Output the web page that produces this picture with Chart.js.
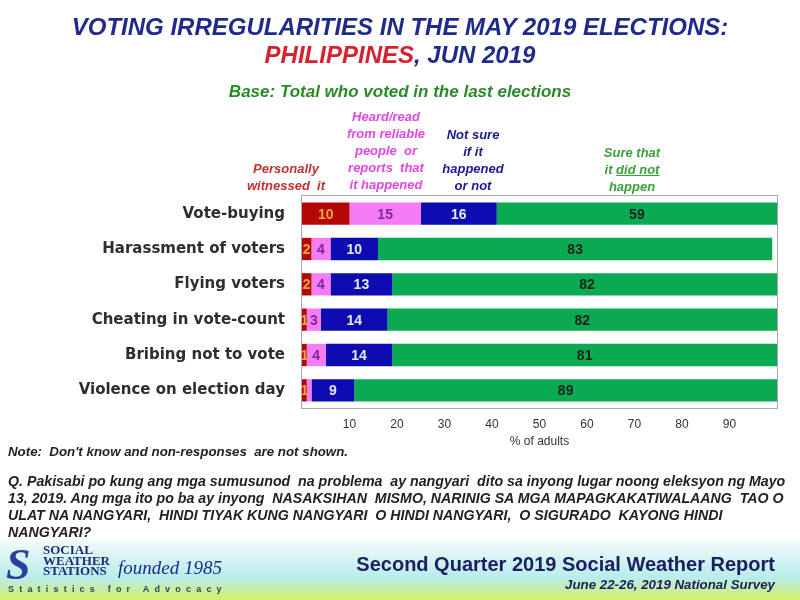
<!DOCTYPE html>
<html><head><meta charset="utf-8">
<script src="https://cdn.jsdelivr.net/npm/chart.js@4.4.1/dist/chart.umd.min.js"></script>
<style>
html,body{margin:0;padding:0;width:800px;height:600px;overflow:hidden;background:#fff;}
#wrap{position:relative;width:800px;height:600px;}
#chartBox{position:absolute;left:0;top:0;width:800px;height:600px;z-index:1;}
.t{position:absolute;white-space:nowrap;font-family:"Liberation Sans",Arial,sans-serif;z-index:2;}
.c{left:0;width:800px;text-align:center;}
.hdr{font-weight:bold;font-style:italic;font-size:13px;line-height:17px;text-align:center;width:140px;}
#footer{position:absolute;left:0;top:540px;width:800px;height:60px;z-index:0;
 background:linear-gradient(to bottom,#f4fbfb 0%,#d6f4f4 30%,#b9ecec 62%,#c6eeb0 80%,#d6f062 100%);}
</style></head>
<body><div id="wrap">
<div id="footer"></div>
<div id="chartBox"><canvas id="c"></canvas></div>

<div class="t c" style="top:13px;font-size:24px;line-height:28px;font-weight:bold;font-style:italic;color:#1f2a8a;">VOTING IRREGULARITIES IN THE MAY 2019 ELECTIONS:</div>
<div class="t c" style="top:41px;font-size:24px;line-height:28px;font-weight:bold;font-style:italic;color:#1f2a8a;"><span style="color:#d8202e;">PHILIPPINES</span>, JUN 2019</div>
<div class="t c" style="top:82px;font-size:17px;line-height:20px;font-weight:bold;font-style:italic;color:#2a8a2a;">Base: Total who voted in the last elections</div>

<div class="t hdr" style="left:216px;top:159.5px;color:#c03030;">Personally<br>witnessed&nbsp; it</div>
<div class="t hdr" style="left:316px;top:107.5px;color:#e048e0;">Heard/read<br>from reliable<br>people&nbsp; or<br>reports&nbsp; that<br>it happened</div>
<div class="t hdr" style="left:403px;top:125.5px;color:#1a1a90;">Not sure<br>if it<br>happened<br>or not</div>
<div class="t hdr" style="left:562px;top:143.5px;color:#3aa03a;">Sure that<br>it <u>did not</u><br>happen</div>

<div class="t" style="left:8px;top:444px;font-size:13.3px;line-height:16px;font-style:italic;font-weight:bold;color:#222;">Note:&nbsp; Don't know and non-responses&nbsp; are not shown.</div>
<div class="t" style="left:8px;top:472.5px;font-size:14.2px;line-height:17px;font-style:italic;font-weight:bold;color:#222;">Q. Pakisabi po kung ang mga sumusunod&nbsp; na problema&nbsp; ay nangyari&nbsp; dito sa inyong lugar noong eleksyon ng Mayo<br>13, 2019. Ang mga ito po ba ay inyong&nbsp; NASAKSIHAN&nbsp; MISMO, NARINIG SA MGA MAPAGKAKATIWALAANG&nbsp; TAO O<br>ULAT NA NANGYARI,&nbsp; HINDI TIYAK KUNG NANGYARI&nbsp; O HINDI NANGYARI,&nbsp; O SIGURADO&nbsp; KAYONG HINDI<br>NANGYARI?</div>

<div class="t" style="left:6px;top:543px;font-family:'Liberation Serif',serif;font-size:44px;line-height:44px;font-weight:bold;font-style:italic;color:#2b3f9e;">S</div>
<div class="t" style="left:43px;top:545px;font-family:'Liberation Serif',serif;font-size:13px;line-height:10.5px;font-weight:bold;color:#1c2a7a;">SOCIAL<br>WEATHER<br>STATIONS</div>
<div class="t" style="left:118px;top:558px;font-family:'Liberation Serif',serif;font-size:19px;line-height:20px;font-style:italic;color:#1c2a8a;">founded 1985</div>
<div class="t" style="left:8px;top:584px;font-size:9px;line-height:11px;font-weight:bold;letter-spacing:5.2px;color:#2a4a4a;">Statistics for Advocacy</div>

<div class="t" style="right:25px;top:553px;font-size:20px;line-height:23px;font-weight:bold;color:#1c2060;">Second Quarter 2019 Social Weather Report</div>
<div class="t" style="right:25px;top:577px;font-size:13.3px;line-height:16px;font-weight:bold;font-style:italic;color:#1c2060;">June 22-26, 2019 National Survey</div>
</div>
<script>
const categories = ["Vote-buying","Harassment of voters","Flying voters","Cheating in vote-count","Bribing not to vote","Violence on election day"];
const seriesNames = ["Personally witnessed it","Heard/read from reliable people or reports that it happened","Not sure if it happened or not","Sure that it did not happen"];
const witnessed = [10, 2, 2, 1, 1, 1];
const heard     = [15, 4, 4, 3, 4, 1];
const notSure   = [16, 10, 13, 14, 14, 9];
const sureNot   = [59, 83, 82, 82, 81, 89];
const xTicks = [10, 20, 30, 40, 50, 60, 70, 80, 90];

const barColors = ["#b40808", "#f67cf6", "#0c0cb0", "#0aaa52"];
const labelColors = ["#f4a640", "#7a2aa0", "#e8e8f2", "#1e1e1e"];

const frame = {
  id: 'frame',
  beforeDatasetsDraw(chart) {
    const a = chart.chartArea, ctx = chart.ctx;
    ctx.save();
    ctx.strokeStyle = '#a8a8a8';
    ctx.lineWidth = 1;
    ctx.strokeRect(a.left - 0.5, a.top - 0.5, a.right - a.left + 1, a.bottom - a.top + 1);
    ctx.restore();
  }
};
const valueLabels = {
  id: 'valueLabels',
  afterDatasetsDraw(chart) {
    const ctx = chart.ctx;
    chart.data.datasets.forEach((ds, di) => {
      const meta = chart.getDatasetMeta(di);
      meta.data.forEach((bar, i) => {
        const v = ds.data[i];
        if (di === 1 && v < 2) return;
        ctx.save();
        ctx.font = 'bold 14px "Liberation Sans", Arial, sans-serif';
        ctx.fillStyle = labelColors[di];
        ctx.textAlign = 'center';
        ctx.textBaseline = 'middle';
        ctx.fillText(String(v), (bar.x + bar.base) / 2, bar.y + 1);
        ctx.restore();
      });
    });
  }
};

new Chart(document.getElementById('c'), {
  type: 'bar',
  data: {
    labels: categories,
    datasets: [witnessed, heard, notSure, sureNot].map((d, k) => ({
      label: seriesNames[k], data: d, backgroundColor: barColors[k],
      borderWidth: 0, barPercentage: 0.63, categoryPercentage: 1
    }))
  },
  options: {
    indexAxis: 'y',
    responsive: true,
    maintainAspectRatio: false,
    animation: false,
    layout: { padding: { left: 0, right: 23, top: 196, bottom: 147 } },
    plugins: { legend: { display: false }, tooltip: { enabled: false } },
    scales: {
      x: {
        stacked: true, min: 0, max: 100,
        grid: { display: false }, border: { display: false },
        afterBuildTicks(scale) { scale.ticks = xTicks.map(v => ({ value: v })); },
        afterFit(scale) { scale.height = 45; },
        ticks: { padding: 1, color: '#333', font: { family: '"Liberation Sans",Arial', size: 12 }, maxRotation: 0, autoSkip: false },
        title: { display: true, text: '% of adults', color: '#333', padding: { top: 2, bottom: 4 }, font: { family: '"Liberation Sans",Arial', size: 12 } }
      },
      y: {
        stacked: true,
        grid: { display: false }, border: { display: false },
        afterFit(scale) { scale.width = 302; },
        ticks: { padding: 9, color: '#2e2e2e', font: { family: '"DejaVu Sans",Verdana,sans-serif', size: 15, weight: 'bold' } }
      }
    }
  },
  plugins: [frame, valueLabels]
});
</script>
</body></html>
